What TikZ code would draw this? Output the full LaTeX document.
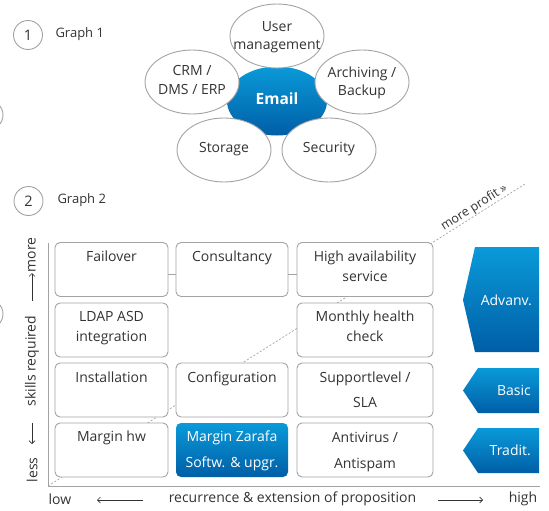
\documentclass[tikz,border=0pt]{standalone}
\usepackage{fontspec}
\setmainfont{Open Sans}
\usetikzlibrary{arrows.meta,shapes.geometric}
\definecolor{txt}{HTML}{333333}
\definecolor{bord}{HTML}{A3A3A3}
\definecolor{bluetop}{HTML}{0A9AD9}
\definecolor{bluebot}{HTML}{005EA6}
\begin{document}
\begin{tikzpicture}[x=1pt,y=-1pt,
  font=\fontsize{14}{20}\selectfont, text=txt,
  ell/.style={ellipse, draw=bord, fill=white, line width=0.9pt, minimum width=94pt, minimum height=64pt, inner sep=0pt},
  elltext/.style={align=center, inner sep=0pt, font=\fontsize{14}{18.5}\selectfont},
  box/.style={rectangle, rounded corners=5pt, draw=bord, fill=white, line width=0.9pt, minimum height=54pt, inner sep=0pt},
  btext/.style={anchor=north, inner sep=0pt, align=center},
  numc/.style={circle, draw=bord, line width=0.9pt, minimum size=29pt, inner sep=0pt, font=\fontsize{14.5}{16}\selectfont},
  bluefill/.style={top color=bluetop, bottom color=bluebot, draw=none},
  wtext/.style={text=white, inner sep=0pt},
  axis/.style={draw=bord, line width=0.9pt},
  garrow/.style={draw=txt, line width=0.6pt, -{Straight Barb[length=3pt,width=6pt]}},
  profit/.style={draw=bord, line width=0.7pt, dash pattern=on 2pt off 1.8pt}
]
\useasboundingbox (0,0) rectangle (549,511);
\clip (0,0) rectangle (549,511);

% partial circles at the left edge
\draw[bord, line width=0.9pt] (-11.5,115) circle[radius=14.5pt];
\draw[bord, line width=0.9pt] (-11.5,314) circle[radius=14.5pt];

% ---------- Graph 1 ----------
\node[numc] (n1) at (28,35) {1};
\node[anchor=west, font=\fontsize{13}{15}\selectfont] (g1) at (52,34) {Graph 1};

\node[ellipse, bluefill, minimum width=100pt, minimum height=69pt] (email) at (277,101) {};
\node[ell] (user) at (277,36) {};
\node[ell] (crm) at (192,82) {};
\node[ell] (arch) at (362,82) {};
\node[ell] (stor) at (224,150) {};
\node[ell] (secu) at (329,150) {};
\node[elltext] (usert) at (277,37) {User\\management};
\node[elltext] (crmt) at (192,80) {CRM /\\DMS / ERP};
\node[elltext] (archt) at (362,83) {Archiving /\\Backup};
\node[elltext] (stort) at (224,149) {Storage};
\node[elltext] (secut) at (329,149) {Security};
\node[wtext, font=\fontsize{15.5}{18}\selectfont\bfseries] (emailt) at (277,99) {Email};

% ---------- Graph 2 ----------
\node[numc] (n2) at (28.5,201) {2};
\node[anchor=west, font=\fontsize{13}{15}\selectfont] (g2) at (54,200) {Graph 2};

\coordinate (o) at (48,486);
\coordinate (ytop) at (48,243);
\coordinate (xend) at (540,486);
\coordinate (pend) at (525,184);

\draw[profit] (o) -- (pend);
\node[inner sep=0.5pt, rotate=32.3, anchor=south, font=\fontsize{12.5}{14}\selectfont] (mp) at (478,213.5) {more profit »};

% boxes
\node[box, minimum width=113pt] (fail) at (111.5,269.5) {};
\node[box, minimum width=112pt] (cons) at (232,269.5) {};
\node[box, minimum width=136pt] (ha) at (365,269.5) {};
\node[box, minimum width=113pt] (ldap) at (111.5,330) {};
\node[box, minimum width=136pt] (mon) at (365,330) {};
\node[box, minimum width=113pt] (inst) at (111.5,390) {};
\node[box, minimum width=112pt] (conf) at (232,390) {};
\node[box, minimum width=136pt] (sup) at (365,390) {};
\node[box, minimum width=113pt] (mhw) at (111.5,450) {};
\node[box, bluefill, minimum width=112pt] (mz) at (232,450) {};
\node[box, minimum width=136pt] (anti) at (365,450) {};

\draw[axis] ([yshift=-4.5pt]fail.east) -- ([yshift=-4.5pt]cons.west);
\draw[axis] ([yshift=-4.5pt]cons.east) -- ([yshift=-4.5pt]ha.west);

\node[btext] at ([yshift=-8.5pt]fail.north) {Failover};
\node[btext] at ([yshift=-8.5pt]cons.north) {Consultancy};
\node[btext] at ([yshift=-8.5pt]ha.north) {High availability\\service};
\node[btext] at ([yshift=-9pt]ldap.north) {LDAP ASD\\integration};
\node[btext] at ([yshift=-8.5pt]mon.north) {Monthly health\\check};
\node[btext] at ([yshift=-9pt]inst.north) {Installation};
\node[btext] at ([yshift=-9pt]conf.north) {Configuration};
\node[btext, font=\fontsize{14}{25.5}\selectfont] at ([yshift=-9pt]sup.north) {Supportlevel /\\SLA};
\node[btext] at ([yshift=-8pt]mhw.north) {Margin hw};
\node[btext, text=white, font=\fontsize{14}{26}\selectfont] at ([yshift=-8pt]mz.north) {Margin Zarafa\\Softw. \& upgr.};
\node[btext, font=\fontsize{14}{26}\selectfont] at ([yshift=-9pt]anti.north) {Antivirus /\\Antispam};

% axes
\draw[axis] (ytop) -- (o) -- (xend);

% right arrow shapes
\shade[bluefill] (475,247) -- (539,247) -- (539,352) -- (475,352) -- (463,300) -- cycle;
\shade[bluefill] (478,368) -- (539,368) -- (539,413) -- (478,413) -- (463,390.5) -- cycle;
\shade[bluefill] (478,428) -- (539,428) -- (539,473) -- (478,473) -- (463,450.5) -- cycle;
\node[wtext, anchor=east] (adv) at (532,300) {Advanv.};
\node[wtext, anchor=east] (bas) at (531,390) {Basic};
\node[wtext, anchor=east] (tra) at (531,450) {Tradit.};

% bottom axis labels
\node (low) at (60,499) {low};
\node (rec) at (292.5,499) {recurrence \& extension of proposition};
\node (high) at (523,499) {high};
\coordinate (la1) at (143,500);
\coordinate (la2) at (97,500);
\coordinate (ra1) at (438,500);
\coordinate (ra2) at (483,500);
\draw[garrow] (la1) -- (la2);
\draw[garrow] (ra1) -- (ra2);

% left axis labels
\node[rotate=90] (more) at (32,255) {more};
\node[rotate=90] (skill) at (32,361) {skills required};
\node[rotate=90] (less) at (32,470) {less};
\coordinate (ua1) at (32,301);
\coordinate (ua2) at (32,273);
\coordinate (da1) at (32,423);
\coordinate (da2) at (32,444);
\draw[garrow] (ua1) -- (ua2);
\draw[garrow] (da1) -- (da2);
\end{tikzpicture}
\end{document}
